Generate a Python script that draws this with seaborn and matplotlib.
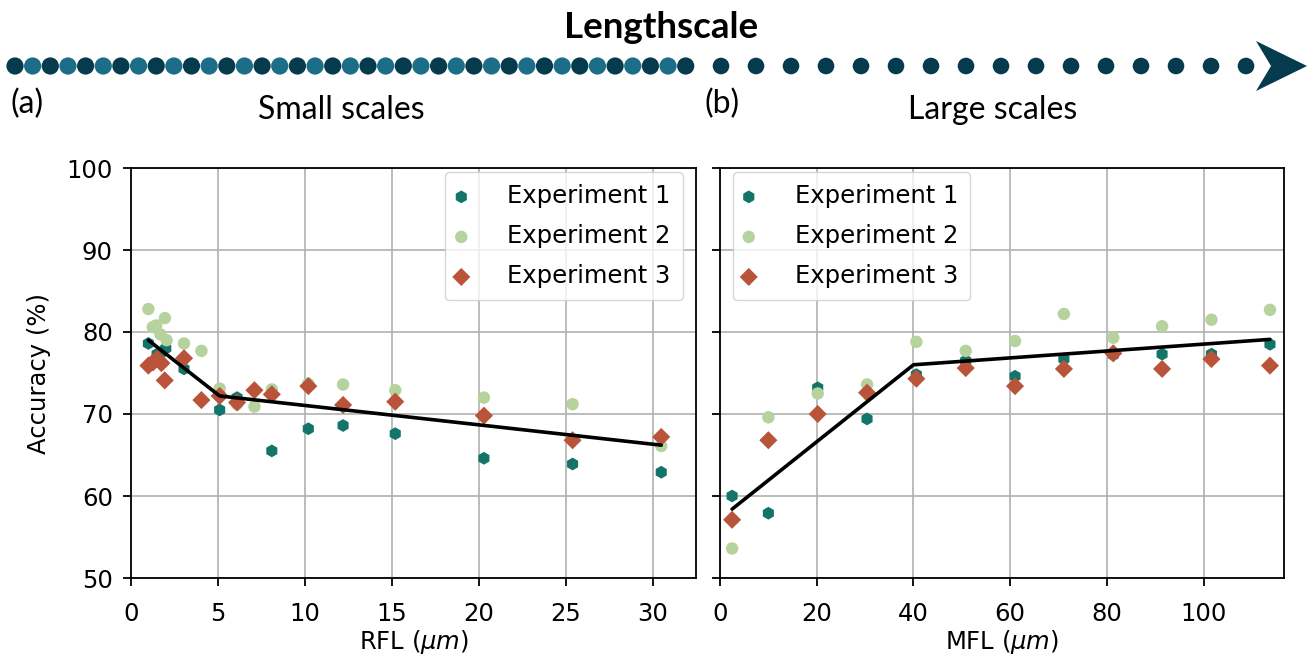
import numpy as np
import pandas as pd
import matplotlib
matplotlib.use("Agg")
import matplotlib.pyplot as plt
from matplotlib.patches import Circle, Polygon
import seaborn as sns

# ---------------- data ----------------
# Panel (a): RFL (um) vs accuracy
a_exp1_x = [1.0, 1.5, 1.75, 2.0, 3.05, 5.1, 6.1, 8.1, 10.2, 12.2, 15.2, 20.3, 25.4, 30.5]
a_exp1_y = [78.6, 77.3, 77.5, 78.0, 75.5, 70.5, 72.0, 65.5, 68.2, 68.6, 67.6, 64.6, 63.9, 62.9]
a_exp2_x = [1.0, 1.25, 1.45, 1.7, 1.95, 2.05, 3.05, 4.05, 5.1, 6.1, 7.1, 8.1, 10.2, 12.2, 15.2, 20.3, 25.4, 30.5]
a_exp2_y = [82.8, 80.6, 80.8, 79.7, 81.7, 79.0, 78.6, 77.7, 73.1, 71.2, 70.9, 73.0, 73.7, 73.6, 72.9, 72.0, 71.2, 66.1]
a_exp3_x = [1.0, 1.27, 1.5, 1.75, 1.94, 3.05, 4.05, 5.1, 6.1, 7.1, 8.1, 10.2, 12.2, 15.2, 20.3, 25.4, 30.5]
a_exp3_y = [75.9, 76.3, 76.7, 76.2, 74.1, 76.8, 71.7, 72.2, 71.4, 72.9, 72.4, 73.4, 71.1, 71.5, 69.8, 66.8, 67.2]
a_fit_x = [1.0, 5.1, 30.5]
a_fit_y = [79.0, 72.2, 66.2]

# Panel (b): MFL (um) vs accuracy
b_x = [2.5, 10.0, 20.2, 30.4, 40.6, 50.8, 61.0, 71.1, 81.3, 91.4, 101.6, 113.7]
b_exp1_y = [60.0, 57.9, 73.2, 69.4, 74.8, 76.5, 74.6, 76.7, 77.2, 77.3, 77.3, 78.5]
b_exp2_y = [53.6, 69.6, 72.5, 73.6, 78.8, 77.7, 78.9, 82.2, 79.3, 80.7, 81.5, 82.7]
b_exp3_y = [57.1, 66.8, 70.0, 72.6, 74.3, 75.6, 73.4, 75.5, 77.4, 75.5, 76.7, 75.9]
b_fit_x = [2.5, 40.0, 113.7]
b_fit_y = [58.4, 76.0, 79.1]

labels = ["Experiment 1", "Experiment 2", "Experiment 3"]
a_ticks = [0, 5, 10, 15, 20, 25, 30]
b_ticks = [0, 20, 40, 60, 80, 100]
y_ticks = [50, 60, 70, 80, 90, 100]

# ---------------- style ----------------
sns.set_theme(style="ticks", rc={
    "axes.grid": True,
    "grid.color": "#b0b0b0",
    "grid.linewidth": 1.2,
    "axes.edgecolor": "black",
    "axes.linewidth": 1.3,
    "xtick.color": "black",
    "ytick.color": "black",
    "text.color": "black",
    "axes.labelcolor": "black",
})
plt.rcParams["font.family"] = ["DejaVu Sans"]
FS = 17.5

C1, C2, C3 = "#13756a", "#b6d29d", "#b9543a"
markers = ["h", "o", "D"]
sizes = [85, 80, 85]
colors = [C1, C2, C3]

fig = plt.figure(figsize=(13.14, 6.59), dpi=100)
W, H = 1314, 659
axL = fig.add_axes([131 / W, 1 - 578 / H, (696 - 131) / W, (578 - 168) / H])
axR = fig.add_axes([720 / W, 1 - 578 / H, (1283.5 - 720) / W, (578 - 168) / H])


def panel(ax, series, fit_x, fit_y, xlim, xticks, xlabel, legloc, anchor, showy):
    for (xs, ys), lab, m, s, c in zip(series, labels, markers, sizes, colors):
        sns.scatterplot(x=xs, y=ys, ax=ax, marker=m, s=s, color=c,
                        edgecolor="none", label=lab, zorder=3)
    sns.lineplot(x=fit_x, y=fit_y, ax=ax, color="black", linewidth=2.6,
                 zorder=4, legend=False, sort=False)
    ax.set_xlim(*xlim)
    ax.set_ylim(50, 100)
    ax.set_xticks(xticks)
    ax.set_yticks(y_ticks)
    ax.tick_params(labelsize=FS, width=1.3, length=6)
    ax.tick_params(axis="x", pad=11)
    ax.tick_params(axis="y", pad=7)
    ax.set_xlabel(xlabel, fontsize=FS, labelpad=2)
    if showy:
        ax.set_ylabel("Accuracy (%)", fontsize=FS)
    else:
        ax.set_ylabel("")
        ax.tick_params(labelleft=False)
    for sp in ax.spines.values():
        sp.set_visible(True)
        sp.set_color("black")
    leg = ax.legend(loc=legloc, bbox_to_anchor=anchor, fontsize=FS,
                    handletextpad=1.75, handlelength=0.3,
                    borderpad=0.5, labelspacing=0.66, frameon=True,
                    borderaxespad=0.0)
    leg.get_frame().set_edgecolor("#cccccc")
    leg.get_frame().set_linewidth(1.0)


panel(axL, [(a_exp1_x, a_exp1_y), (a_exp2_x, a_exp2_y), (a_exp3_x, a_exp3_y)],
      a_fit_x, a_fit_y, (0, 32.5), a_ticks, r"RFL ($\mu m$)", "upper right",
      (0.977, 0.99), True)
panel(axR, [(b_x, b_exp1_y), (b_x, b_exp2_y), (b_x, b_exp3_y)],
      b_fit_x, b_fit_y, (0, 116.5), b_ticks, r"MFL ($\mu m$)", "upper left",
      (0.023, 0.99), False)
axL.yaxis.set_label_coords(-0.142, 0.5)

# ---------------- header: lengthscale arrow ----------------
top = fig.add_axes([0, 0, 1, 1], zorder=-1)
top.set_xlim(0, W)
top.set_ylim(H, 0)
top.axis("off")

DARK, LIGHT = "#063b4d", "#1b6d88"
n_small, small_start, small_step = 39, 15.0, 17.65
for i in range(n_small):
    top.add_patch(Circle((small_start + i * small_step, 66), 8.6,
                         color=DARK if i % 2 == 0 else LIGHT, lw=0))
n_large, large_start, large_step = 16, 721.0, 35.0
for i in range(n_large):
    top.add_patch(Circle((large_start + i * large_step, 66), 8.3, color=DARK, lw=0))
top.add_patch(Polygon([[1256, 41], [1307, 66], [1256, 91], [1271, 66]],
                      closed=True, color=DARK, lw=0))

hdr = ["Lato", "DejaVu Sans"]
top.text(661, 28, "Lengthscale", fontsize=26.5, fontweight="bold",
         family=hdr, ha="center", va="center")
top.text(11, 104, "(a)", fontsize=23, family=hdr, ha="left", va="center")
top.text(341, 110, "Small scales", fontsize=23, family=hdr,
         ha="center", va="center")
top.text(705, 104, "(b)", fontsize=23, family=hdr, ha="left", va="center")
top.text(993, 110, "Large scales", fontsize=23, family=hdr,
         ha="center", va="center")

fig.savefig("out.png", dpi=100)
